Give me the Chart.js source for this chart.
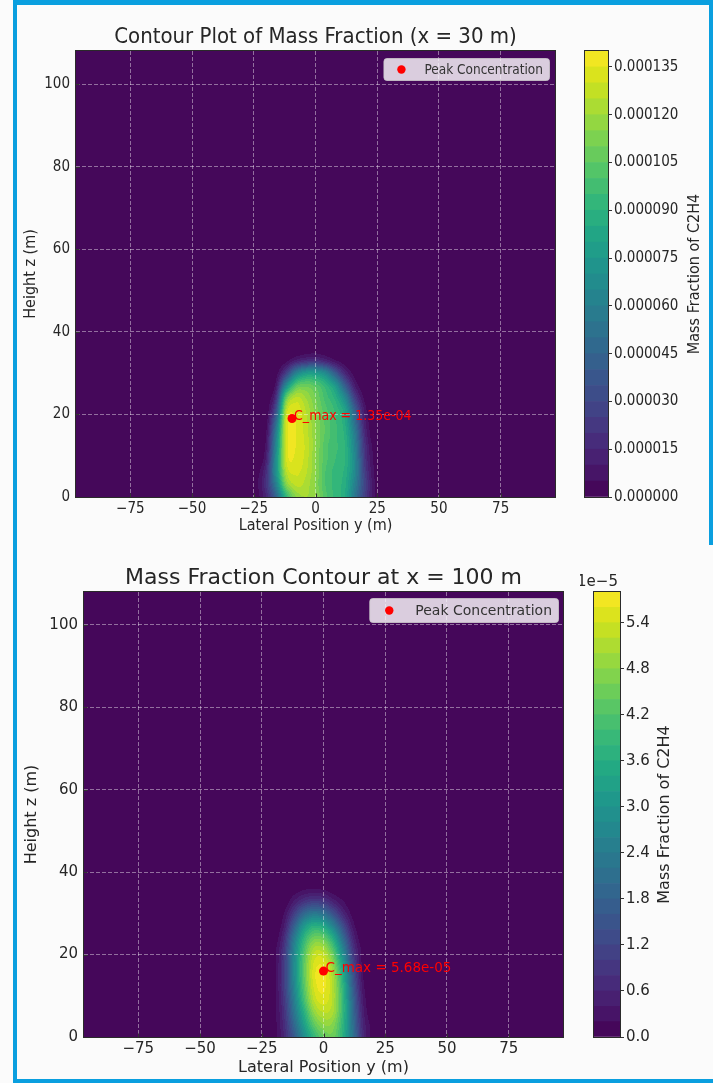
<!DOCTYPE html>
<html><head><meta charset="utf-8">
<script src="https://cdn.jsdelivr.net/npm/chart.js@4/dist/chart.umd.min.js"></script>
<style>
html,body{margin:0;padding:0;background:#ffffff;}
#page{position:relative;width:713px;height:1083px;background:#fbfbfb;overflow:hidden;}
.bl{position:absolute;background:#0a9fdf;}
.box{position:absolute;}
canvas{display:block;}
</style></head><body>
<div id="page">
  <div class="bl" style="left:13px;top:0;width:4px;height:1083px"></div>
  <div class="bl" style="left:13px;top:0;width:700px;height:5px"></div>
  <div class="bl" style="left:709px;top:0;width:4px;height:545px"></div>
  <div class="bl" style="left:13px;top:1079px;width:700px;height:4px"></div>
  <div class="box" style="left:0;top:0"><canvas id="heat30" width="580" height="545"></canvas></div>
  <div class="box" style="left:570px;top:0"><canvas id="cb30" width="143" height="545"></canvas></div>
  <div class="box" style="left:0;top:545px"><canvas id="heat100" width="590" height="538"></canvas></div>
  <div class="box" style="left:580px;top:545px"><canvas id="cb100" width="133" height="538"></canvas></div>
</div>
<script>
// ---------------- DATA ----------------
const lateralY = [-28,-24,-20,-16,-12,-8,-4,0,4,8,12,16,20,24,28];   // y (m)
const heightZ  = [0,3,6,9,12,15,18,21,24,27,30,33,36];                 // z (m)

// Mass fraction of C2H4 at x = 30 m, in units of 1e-5 (rows: heightZ, cols: lateralY)
const massFrac30 = [
  [0,0.2,1.5,4.5, 9.0,11.5,12.0,11.6,10.2,9.3,8.5,5.5,2.5,0.5,0],
  [0,0.3,2.0,6.0,11.2,12.6,12.3,11.4,10.0,9.3,8.6,6.0,2.8,0.5,0],
  [0,0.2,1.8,7.0,12.3,13.1,12.6,11.5,10.0,9.3,8.8,6.5,2.5,0.4,0],
  [0,0,  1.2,7.0,12.9,13.4,12.8,11.5,10.2,9.5,9.0,6.5,2.2,0.3,0],
  [0,0,  0.8,6.5,13.0,13.5,12.9,11.6,10.2,9.6,9.0,6.2,2.0,0.2,0],
  [0,0,  0.5,6.0,13.0,13.5,12.8,11.6,10.4,9.6,8.8,5.8,1.6,0,0],
  [0,0,  0.2,5.0,12.9,13.5,12.7,11.5,10.4,9.6,8.5,5.0,1.2,0,0],
  [0,0,  0,  3.5,12.3,13.3,12.5,11.3,10.2,9.4,8.0,4.2,0.8,0,0],
  [0,0,  0,  2.0,10.5,12.6,12.0,11.0, 9.8,8.8,6.5,2.5,0.3,0,0],
  [0,0,  0,  0.8, 6.5,10.2,10.8,10.3, 9.2,7.5,4.0,1.0,0,0,0],
  [0,0,  0,  0.2, 2.5, 6.0, 7.6, 7.6, 6.6,4.0,1.5,0.2,0,0,0],
  [0,0,  0,  0,   0.3, 1.2, 1.8, 2.0, 1.4,0.6,0.1,0,0,0,0],
  [0,0,  0,  0,   0,   0,   0,   0,   0,  0,  0,  0,0,0,0]
];
// Mass fraction of C2H4 at x = 100 m, in units of 1e-5
const massFrac100 = [
  [0,0,0.1,0.6,1.6,2.8,3.8,4.4, 4.5,3.6,2.2,0.7,0.1,0,0],
  [0,0,0.1,0.7,1.9,3.2,4.3,4.8, 4.7,3.7,2.1,0.6,0.1,0,0],
  [0,0,0.1,0.8,2.2,3.6,4.8,5.2, 5.0,3.8,2.0,0.5,0,0,0],
  [0,0,0.1,0.9,2.4,4.0,5.2,5.5, 5.1,3.8,1.9,0.4,0,0,0],
  [0,0,0.1,1.0,2.6,4.2,5.4,5.65,5.1,3.7,1.7,0.3,0,0,0],
  [0,0,0.1,1.0,2.7,4.3,5.5,5.68,5.0,3.5,1.5,0.2,0,0,0],
  [0,0,0.1,1.0,2.7,4.3,5.4,5.5, 4.7,3.1,1.2,0.1,0,0,0],
  [0,0,0.1,0.9,2.6,4.1,5.1,5.1, 4.2,2.6,0.9,0.1,0,0,0],
  [0,0,0,  0.7,2.3,3.7,4.5,4.4, 3.5,2.0,0.6,0,0,0,0],
  [0,0,0,  0.4,1.7,3.0,3.6,3.4, 2.5,1.3,0.3,0,0,0,0],
  [0,0,0,  0.2,1.0,1.9,2.3,2.1, 1.4,0.6,0.1,0,0,0,0],
  [0,0,0,  0,  0.4,0.8,1.0,0.9, 0.5,0.2,0,0,0,0,0],
  [0,0,0,  0,  0.05,0.15,0.2,0.15,0.05,0,0,0,0,0,0]
];

const xTicks = [-75,-50,-25,0,25,50,75];
const zTicks = [0,20,40,60,80,100];
const lateralMin = -97, lateralMax = 97;
const heightMin = 0, heightMax = 108;

const peak30  = {y:-9.5, z:19.0};
const peak100 = {y:0.0,  z:16.0};
const peakLabel30  = 'C_max = 1.35e-04';
const peakLabel100 = 'C_max = 5.68e-05';

// contour levels (units of 1e-5)
const levelStep30 = 0.5,  levelTop30 = 14.0;
const levelStep100 = 0.2, levelTop100 = 5.8;
const cbTickLabels30  = ['0.000000','0.000015','0.000030','0.000045','0.000060','0.000075','0.000090','0.000105','0.000120','0.000135'];
const cbTickLabels100 = ['0.0','0.6','1.2','1.8','2.4','3.0','3.6','4.2','4.8','5.4'];
const UNIT = 1e-5;

// ---------------- HELPERS ----------------
const VIRIDIS = ['#440154','#481a6c','#472f7d','#414487','#39568c','#31688e','#2a788e','#23888e','#1f988b','#22a884','#35b779','#54c568','#7ad151','#a5db36','#d2e21b','#fde725'];
const VIR = VIRIDIS.map(h=>[parseInt(h.slice(1,3),16),parseInt(h.slice(3,5),16),parseInt(h.slice(5,7),16)]);
function viridis(t){ t=Math.max(0,Math.min(1,t)); const f=t*15; const i=Math.min(14,Math.floor(f)); const u=f-i; const a=VIR[i], b=VIR[i+1]; return [0,1,2].map(k=>Math.round(a[k]+(b[k]-a[k])*u)); }
function bandColors(n){ const out=[]; for(let i=0;i<n;i++) out.push(viridis((i+0.5)/n)); return out; }
function rgb(c){ return 'rgb('+c[0]+','+c[1]+','+c[2]+')'; }
function cr(p0,p1,p2,p3,t){ return p1+0.5*t*(p2-p0+t*(2*p0-5*p1+4*p2-p3+t*(3*(p1-p2)+p3-p0))); }
function sampleGrid(grid, xs, zs, xv, zv){
  const fx=(xv-xs[0])/(xs[1]-xs[0]), fz=(zv-zs[0])/(zs[1]-zs[0]);
  const nx=xs.length, nz=zs.length;
  if (fx<=-2||fx>=nx+1||fz>=nz+1) return 0;
  const ix=Math.floor(fx), iz=Math.floor(fz), tx=fx-ix, tz=fz-iz;
  const g=(i,j)=>{ if(i<0||i>=nx) return 0; if(j<0) j=0; if(j>=nz) return 0; return grid[j][i]; };
  const r=[];
  for(let d=-1; d<=2; d++){ const j=iz+d; r.push(cr(g(ix-1,j),g(ix,j),g(ix+1,j),g(ix+2,j),tx)); }
  return cr(r[0],r[1],r[2],r[3],tz);
}
const minus = v => (v<0 ? '\u2212'+Math.abs(v) : String(v));

function makeHeat(grid, step, nb){
  const cols = bandColors(nb);
  return { id:'heat', beforeDraw(chart){
    const {ctx, chartArea:a, scales:{x,y}} = chart;
    const L=Math.round(a.left), T=Math.round(a.top), W=Math.round(a.right)-L, H=Math.round(a.bottom)-T;
    const img=ctx.createImageData(W,H);
    const xv=new Float64Array(W), zv=new Float64Array(H);
    for(let i=0;i<W;i++) xv[i]=x.getValueForPixel(L+i+0.5);
    for(let j=0;j<H;j++) zv[j]=y.getValueForPixel(T+j+0.5);
    for(let j=0;j<H;j++) for(let i=0;i<W;i++){
      const v=sampleGrid(grid, lateralY, heightZ, xv[i], zv[j]);
      let b=Math.floor(v/step); if(b<0) b=0; if(b>=nb) b=nb-1;
      const c=cols[b], k=(j*W+i)*4;
      img.data[k]=c[0]; img.data[k+1]=c[1]; img.data[k+2]=c[2]; img.data[k+3]=255;
    }
    ctx.putImageData(img,L,T);
  }};
}

function makeOverlay(o){
  return { id:'overlay', afterDraw(chart){
    const {ctx, chartArea:a, scales:{x,y}} = chart;
    ctx.save();
    // inward ticks
    ctx.strokeStyle='#333'; ctx.lineWidth=1;
    x.ticks.forEach(t=>{ const px=Math.round(x.getPixelForValue(t.value))+0.5; ctx.beginPath(); ctx.moveTo(px,a.bottom); ctx.lineTo(px,a.bottom-3.5); ctx.stroke(); });
    y.ticks.forEach(t=>{ const py=Math.round(y.getPixelForValue(t.value))+0.5; ctx.beginPath(); ctx.moveTo(a.left,py); ctx.lineTo(a.left+3.5,py); ctx.stroke(); });
    // frame
    ctx.strokeStyle='#2a2a2a'; ctx.lineWidth=1;
    ctx.strokeRect(Math.round(a.left)-0.5, Math.round(a.top)-0.5, Math.round(a.right-a.left)+1, Math.round(a.bottom-a.top)+1);
    // annotation
    const pt = chart.getDatasetMeta(0).data[0];
    ctx.fillStyle='#ff0000'; ctx.font=o.labelFont; ctx.textBaseline='alphabetic'; ctx.textAlign='left';
    ctx.fillText(o.label, pt.x+2, pt.y+1);
    // legend
    const txt = chart.data.datasets[0].label;
    ctx.font=o.legendFont;
    const tw=ctx.measureText(txt).width;
    const right=a.right-o.legRight, left=right-(o.textOff+tw+6), top=a.top+o.legTop, h=o.legH;
    ctx.beginPath(); ctx.roundRect(left+0.5, top+0.5, right-left, h, 3);
    ctx.fillStyle='rgba(255,255,255,0.8)'; ctx.fill();
    ctx.strokeStyle='rgba(204,204,204,0.8)'; ctx.stroke();
    ctx.beginPath(); ctx.arc(left+o.dotOff, top+h/2+0.5, 4.2, 0, Math.PI*2); ctx.fillStyle='#ff0000'; ctx.fill();
    ctx.fillStyle='#333'; ctx.textBaseline='middle'; ctx.fillText(txt, left+o.textOff, top+h/2+1);
    ctx.restore();
  }};
}

function heatChart(id, o){
  const fam = o.family;
  return new Chart(document.getElementById(id), {
    type:'scatter',
    data:{ datasets:[{ label:'Peak Concentration', data:[{x:o.peak.y, y:o.peak.z}], pointRadius:4.5, pointHoverRadius:4.5, backgroundColor:'#ff0000', borderWidth:0 }] },
    options:{
      responsive:false, animation:false, events:[],
      layout:{ padding:{left:0, right:o.padRight, top:0, bottom:0} },
      plugins:{
        legend:{display:false}, tooltip:{enabled:false},
        title:{ display:true, text:o.title, fullSize:false, color:'#262626', font:{size:22, family:fam, weight:'normal'}, padding:{top:o.titleTop, bottom:o.titleBottom} }
      },
      scales:{
        x:{ type:'linear', min:lateralMin, max:lateralMax,
            afterBuildTicks:s=>{ s.ticks = xTicks.map(v=>({value:v})); },
            afterFit:s=>{ s.height=o.xHeight; },
            ticks:{ callback:v=>minus(v), color:'#262626', font:{size:15, family:fam}, padding:3, maxRotation:0, autoSkip:false },
            grid:{ color:'rgba(255,255,255,0.42)', lineWidth:1, drawTicks:false },
            border:{ display:false, dash:[4,2] },
            title:{ display:true, text:'Lateral Position y (m)', color:'#262626', font:{size:16, family:fam}, padding:{top:0, bottom:o.xTitlePad} } },
        y:{ type:'linear', min:heightMin, max:heightMax,
            afterBuildTicks:s=>{ s.ticks = zTicks.map(v=>({value:v})); },
            afterFit:s=>{ s.width=o.yWidth; },
            ticks:{ callback:v=>minus(v), color:'#262626', font:{size:15, family:fam}, padding:6, autoSkip:false },
            grid:{ color:'rgba(255,255,255,0.42)', lineWidth:1, drawTicks:false },
            border:{ display:false, dash:[4,2] },
            title:{ display:true, text:'Height z (m)', color:'#262626', font:{size:16, family:fam}, padding:{top:o.yTitlePad, bottom:0} } }
      }
    },
    plugins:[ makeHeat(o.grid, o.step, Math.round(o.top/o.step)), makeOverlay(o) ]
  });
}

function colorbarChart(id, o){
  const nb = Math.round(o.top/o.step);
  const cols = bandColors(nb);
  const datasets = [];
  for(let i=0;i<nb;i++){
    datasets.push({ data:[[i*o.step*UNIT, (i+1)*o.step*UNIT]], backgroundColor:rgb(cols[i]), borderWidth:0, grouped:false, barPercentage:1, categoryPercentage:1 });
  }
  const tickVals = o.tickLabels.map(s=>parseFloat(s)*o.tickMult);
  const overlay = { id:'cbOverlay', afterDraw(chart){
    const {ctx, chartArea:a} = chart;
    ctx.save();
    ctx.strokeStyle='#2a2a2a'; ctx.lineWidth=1;
    ctx.strokeRect(Math.round(a.left)-0.5, Math.round(a.top)-0.5, Math.round(a.right-a.left)+1, Math.round(a.bottom-a.top)+1);
    ctx.fillStyle='#262626'; ctx.font='16px '+o.family; ctx.textAlign='center'; ctx.textBaseline='middle';
    ctx.translate(o.labelX, (a.top+a.bottom)/2); ctx.rotate(-Math.PI/2);
    ctx.fillText('Mass Fraction of C2H4', 0, 0);
    ctx.restore();
    if (o.offsetText){
      ctx.save(); ctx.fillStyle='#262626'; ctx.font='15px '+o.family; ctx.textAlign='center'; ctx.textBaseline='middle';
      ctx.fillText(o.offsetText, o.offsetX, o.offsetY); ctx.restore();
    }
  }};
  return new Chart(document.getElementById(id), {
    type:'bar',
    data:{ labels:[''], datasets },
    options:{
      responsive:false, animation:false, events:[],
      layout:{ padding:o.pad },
      plugins:{ legend:{display:false}, tooltip:{enabled:false} },
      scales:{
        x:{ display:false },
        y:{ position:'right', min:0, max:o.top*UNIT,
            afterBuildTicks:s=>{ s.ticks = tickVals.map(v=>({value:v})); },
            afterFit:s=>{ s.width=o.yWidth; },
            ticks:{ callback:(v,i)=>o.tickLabels[i], color:'#262626', font:{size:15, family:o.family}, padding:2, autoSkip:false },
            grid:{ drawOnChartArea:false, drawTicks:true, tickLength:4, color:'#333', lineWidth:1 },
            border:{ display:false } }
      }
    },
    plugins:[overlay]
  });
}

const FAM_TOP = "'DejaVu Sans Condensed', 'DejaVu Sans', sans-serif";
const FAM_BOT = "'DejaVu Sans', sans-serif";

heatChart('heat30', { family:FAM_TOP, title:'Contour Plot of Mass Fraction (x = 30 m)', grid:massFrac30, step:levelStep30, top:levelTop30,
  peak:peak30, label:peakLabel30, labelFont:'14px '+FAM_TOP, legendFont:'13.5px '+FAM_TOP,
  padRight:25, titleTop:23.8, titleBottom:0.8, xHeight:48, yWidth:76, xTitlePad:9.4, yTitlePad:21.4,
  legRight:6, legTop:7, legH:22, dotOff:18, textOff:41 });
colorbarChart('cb30', { family:FAM_TOP, step:levelStep30, top:levelTop30, tickLabels:cbTickLabels30, tickMult:1,
  pad:{left:15, top:51, bottom:48, right:0}, yWidth:105, labelX:125 });

heatChart('heat100', { family:FAM_BOT, title:'Mass Fraction Contour at x = 100 m', grid:massFrac100, step:levelStep100, top:levelTop100,
  peak:peak100, label:peakLabel100, labelFont:'13.5px '+FAM_BOT, legendFont:'14px '+FAM_BOT,
  padRight:27, titleTop:19.8, titleBottom:0.8, xHeight:46, yWidth:84, xTitlePad:5.4, yTitlePad:22.4,
  legRight:5, legTop:6, legH:24, dotOff:20, textOff:46 });
colorbarChart('cb100', { family:FAM_BOT, step:levelStep100, top:levelTop100, tickLabels:cbTickLabels100, tickMult:UNIT,
  pad:{left:14, top:47, bottom:46, right:0}, yWidth:93, labelX:85, offsetText:'1e\u22125', offsetX:17.5, offsetY:37 });
</script>
</body></html>
